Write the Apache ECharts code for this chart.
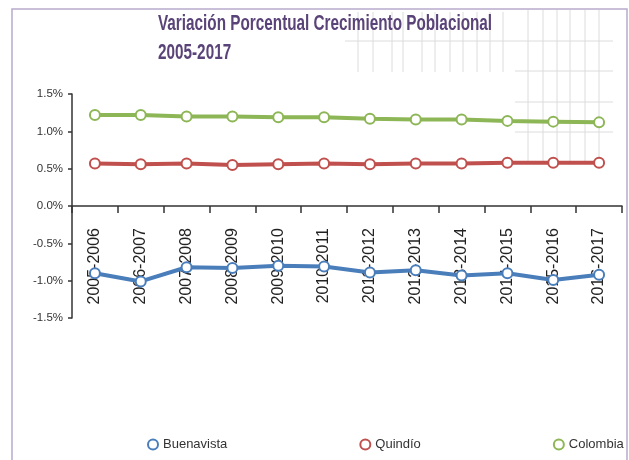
<!DOCTYPE html>
<html>
<head>
<meta charset="utf-8">
<script src="https://cdn.jsdelivr.net/npm/echarts@6/dist/echarts.min.js"></script>
<style>
html,body{margin:0;padding:0;background:#fff;}
#chart{width:629px;height:460px;}
</style>
</head>
<body>
<div id="chart"></div>
<script>
var categories = ["2005-2006","2006-2007","2007-2008","2008-2009","2009-2010","2010-2011","2011-2012","2012-2013","2013-2014","2014-2015","2015-2016","2016-2017"];
var buenavista = [-0.90,-1.01,-0.82,-0.83,-0.80,-0.81,-0.89,-0.86,-0.93,-0.90,-0.99,-0.92];
var quindio = [0.57,0.56,0.57,0.55,0.56,0.57,0.56,0.57,0.57,0.58,0.58,0.58];
var colombia = [1.22,1.22,1.20,1.20,1.19,1.19,1.17,1.16,1.16,1.14,1.13,1.12];
var seriesNames = ["Buenavista","Quindío","Colombia"];
var seriesColors = ["#4a7ebb","#c0504d","#8db656"];
var titleText = "Variación Porcentual Crecimiento Poblacional\n2005-2017";
var yMin = -1.5, yMax = 1.5, yStep = 0.5;

var SANS = "'Liberation Sans',Arial,sans-serif";
var chart = echarts.init(document.getElementById('chart'), null, {renderer:'canvas'});

var gridTop = 94, gridBottom = 142, chartH = 460;
var plotH = chartH - gridTop - gridBottom;
// shift the category axis so that it sits on the zero line
var zeroOffset = -plotH * (0 - yMin) / (yMax - yMin);

function mkSeries(name, data, color){
  return {
    name: name, type: 'line', data: data,
    symbol: 'circle', symbolSize: 10,
    lineStyle: {width: 4, color: color},
    itemStyle: {color: '#fff', borderColor: color, borderWidth: 2},
    emphasis: {disabled: true},
    animation: false
  };
}

// decorative faint grid artefact and frame
var deco = [];
var vx1 = [358,373,392,403,422,435,450,463,477,490,503];
vx1.forEach(function(x){ deco.push({type:'line', silent:true, z:-1, shape:{x1:x,y1:12,x2:x,y2:72}, style:{stroke:'#dcdcdc', lineWidth:1}}); });
var vx2 = [528,543,557,570,585,599];
vx2.forEach(function(x){ deco.push({type:'line', silent:true, z:-1, shape:{x1:x,y1:10,x2:x,y2:162}, style:{stroke:'#dcdcdc', lineWidth:1}}); });
[[345,41,613],[515,71,613],[515,102,613],[515,132,613]].forEach(function(h){
  deco.push({type:'line', silent:true, z:-1, shape:{x1:h[0],y1:h[1],x2:h[2],y2:h[1]}, style:{stroke:'#dcdcdc', lineWidth:1}});
});
deco.push({type:'rect', silent:true, shape:{x:12,y:9,width:615,height:470}, style:{fill:'none', stroke:'#b9aacb', lineWidth:1.5}});
deco.push({
  type:'text', x:158, y:9, scaleX:1, scaleY:1.4, z:10,
  style:{text:titleText, font:'bold 15.3px ' + SANS, fill:'#5a4378', lineHeight:21, verticalAlign:'top', align:'left'}
});

chart.setOption({
  backgroundColor: '#fff',
  animation: false,
  graphic: deco,
  legend: {
    data: seriesNames,
    top: 433, left: 142, width: 600,
    orient: 'horizontal',
    itemGap: 132,
    icon: 'circle', itemWidth: 10, itemHeight: 10,
    textStyle: {fontFamily: SANS, fontSize: 13, color: '#333'}
  },
  grid: {left: 72, right: 7, top: gridTop, bottom: gridBottom, containLabel: false},
  xAxis: {
    type: 'category', data: categories, boundaryGap: true,
    position: 'bottom', offset: zeroOffset,
    axisLine: {onZero: false, lineStyle: {color: '#333', width: 1.5}},
    axisTick: {show: true, length: 7, interval: 0, lineStyle: {color: '#333', width: 1.5}},
    axisLabel: {interval: 0, rotate: 90, margin: 22, fontFamily: SANS, fontSize: 16, color: '#222'},
    splitLine: {show: false}
  },
  yAxis: {
    type: 'value', min: yMin, max: yMax, interval: yStep,
    axisLine: {show: true, lineStyle: {color: '#333', width: 1.5}},
    axisTick: {show: true, length: 4, lineStyle: {color: '#333', width: 1.5}},
    axisLabel: {margin: 9, fontFamily: SANS, fontSize: 11.5, color: '#333', formatter: function(v){ return v.toFixed(1) + '%'; }},
    splitLine: {show: false}
  },
  series: [
    mkSeries(seriesNames[0], buenavista, seriesColors[0]),
    mkSeries(seriesNames[1], quindio, seriesColors[1]),
    mkSeries(seriesNames[2], colombia, seriesColors[2])
  ]
});
</script>
</body>
</html>
